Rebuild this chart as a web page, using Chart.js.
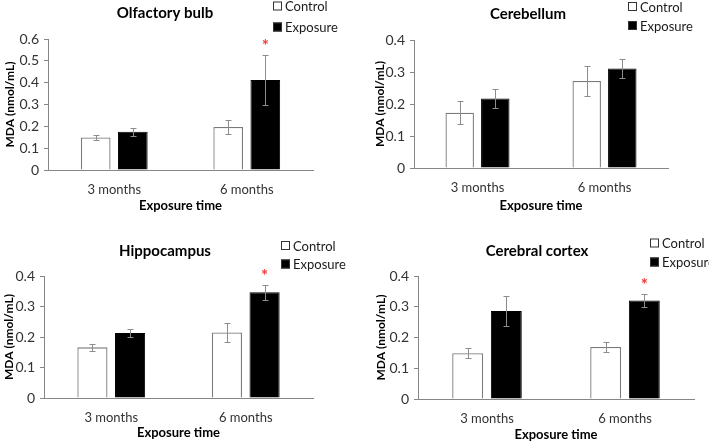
<!DOCTYPE html>
<html>
<head>
<meta charset="utf-8">
<script src="https://cdn.jsdelivr.net/npm/chart.js@4.4.1/dist/chart.umd.min.js"></script>
<style>
  html, body { margin: 0; padding: 0; background: #fff; }
  #wrap { position: relative; width: 709px; height: 443px; overflow: hidden; }
  canvas { position: absolute; }
</style>
</head>
<body>
<div id="wrap">
  <canvas id="olfactory"></canvas>
  <canvas id="cerebellum"></canvas>
  <canvas id="hippocampus"></canvas>
  <canvas id="cortex"></canvas>
</div>
<script>
const categories = ['3 months', '6 months'];
const seriesNames = ['Control', 'Exposure'];
const xAxisTitle = 'Exposure time';
const yAxisTitle = 'MDA (nmol/mL)';

const olfactoryTicks = [0, 0.1, 0.2, 0.3, 0.4, 0.5, 0.6];
const brainTicks = [0, 0.1, 0.2, 0.3, 0.4];

// Olfactory bulb
const olfControl = [0.149, 0.197];
const olfControlErr = [0.010, 0.031];
const olfExposure = [0.175, 0.412];
const olfExposureErr = [0.018, 0.115];
const olfStar = [false, true];

// Cerebellum
const cerControl = [0.173, 0.272];
const cerControlErr = [0.036, 0.047];
const cerExposure = [0.217, 0.311];
const cerExposureErr = [0.031, 0.029];
const cerStar = [false, false];

// Hippocampus
const hipControl = [0.166, 0.215];
const hipControlErr = [0.012, 0.032];
const hipExposure = [0.213, 0.347];
const hipExposureErr = [0.012, 0.025];
const hipStar = [false, true];

// Cerebral cortex
const ctxControl = [0.149, 0.169];
const ctxControlErr = [0.016, 0.016];
const ctxExposure = [0.286, 0.320];
const ctxExposureErr = [0.049, 0.022];
const ctxStar = [false, true];

const FONT = 'Lato, "Open Sans", sans-serif';
const AXIS_GREY = '#868686';

// error bars, stars, panel title and the small legend
const extrasPlugin = {
    id: 'extras',
    afterDatasetsDraw(chart) {
        const c = chart.ctx;
        const yScale = chart.scales.y;
        chart.data.datasets.forEach((ds, i) => {
            const meta = chart.getDatasetMeta(i);
            meta.data.forEach((bar, j) => {
                const x = Math.round(bar.x) + 0.5;
                const hi = Math.round(yScale.getPixelForValue(ds.data[j] + ds.errors[j])) + 0.5;
                const lo = Math.round(yScale.getPixelForValue(ds.data[j] - ds.errors[j])) + 0.5;
                c.save();
                c.strokeStyle = '#8c8c8c';
                c.lineWidth = 1;
                c.beginPath();
                c.moveTo(x, hi); c.lineTo(x, lo);
                c.moveTo(x - 3, hi); c.lineTo(x + 3, hi);
                c.moveTo(x - 3, lo); c.lineTo(x + 3, lo);
                c.stroke();
                if (ds.stars && ds.stars[j]) {
                    c.fillStyle = '#f03c3c';
                    c.font = 'bold 17px ' + FONT;
                    c.textAlign = 'center';
                    c.textBaseline = 'alphabetic';
                    c.fillText('*', bar.x, hi - 4);
                }
                c.restore();
            });
        });
    },
    afterDraw(chart, args, opts) {
        const c = chart.ctx;
        c.save();
        c.fillStyle = '#000';
        c.font = 'bold 15px ' + FONT;
        c.textAlign = 'center';
        c.textBaseline = 'middle';
        c.fillText(opts.title, opts.titleX, opts.titleY);

        c.font = '13px ' + FONT;
        c.textAlign = 'left';
        chart.data.datasets.forEach((ds, i) => {
            const ly = opts.legendY + i * opts.legendGap;
            c.fillStyle = ds.backgroundColor;
            c.fillRect(opts.legendX, ly - 4.5, 9, 9);
            c.strokeStyle = '#333';
            c.lineWidth = 1;
            c.strokeRect(opts.legendX + 0.5, ly - 4, 8, 8);
            c.fillStyle = '#1a1a1a';
            c.fillText(ds.label, opts.legendX + 12, ly + 1);
        });
        c.restore();
    }
};

function makePanel(id, p) {
    const el = document.getElementById(id);
    el.width = p.box.w;
    el.height = p.box.h;
    el.style.left = p.box.x + 'px';
    el.style.top = p.box.y + 'px';

    const yWidth = p.area.l - p.box.x;
    const xHeight = p.box.y + p.box.h - p.area.b;

    return new Chart(el.getContext('2d'), {
        type: 'bar',
        data: {
            labels: categories,
            datasets: [{
                label: seriesNames[0],
                data: p.control,
                errors: p.controlErr,
                backgroundColor: '#ffffff',
                borderColor: '#7a7a7a',
                borderWidth: 1.3
            }, {
                label: seriesNames[1],
                data: p.exposure,
                errors: p.exposureErr,
                stars: p.stars,
                backgroundColor: '#000000',
                borderColor: '#000000',
                borderWidth: 1
            }]
        },
        options: {
            responsive: false,
            animation: false,
            layout: {
                padding: {
                    left: 0,
                    top: p.area.t - p.box.y,
                    right: p.box.x + p.box.w - p.area.r,
                    bottom: 0
                }
            },
            datasets: {
                bar: { categoryPercentage: 0.56, barPercentage: 0.8 }
            },
            scales: {
                x: {
                    grid: { display: false },
                    border: { display: true, color: AXIS_GREY, width: 1 },
                    ticks: { color: '#333', font: { family: FONT, size: 13 }, padding: 4 },
                    title: {
                        display: true, text: xAxisTitle, color: '#000',
                        font: { family: FONT, size: 13, weight: 'bold' },
                        padding: { top: 0, bottom: p.box.y + p.box.h - p.xTitleY - 7.8 }
                    },
                    afterFit: s => { s.height = xHeight; }
                },
                y: {
                    min: p.ticks[0],
                    max: p.ticks[p.ticks.length - 1],
                    afterBuildTicks: s => { s.ticks = p.ticks.map(v => ({ value: v })); },
                    grid: { drawOnChartArea: false, drawTicks: true, tickLength: 4, color: AXIS_GREY },
                    border: { display: true, color: AXIS_GREY, width: 1 },
                    ticks: { color: '#333', font: { family: FONT, size: 14 }, padding: 5 },
                    title: {
                        display: true, text: yAxisTitle, color: '#000',
                        font: { family: FONT, size: 12, weight: 'bold' },
                        padding: { top: p.yTitleX - p.box.x - 7.2, bottom: 0 }
                    },
                    afterFit: s => { s.width = yWidth; }
                }
            },
            plugins: {
                legend: { display: false },
                tooltip: { enabled: false },
                extras: {
                    title: p.title,
                    titleX: p.titlePos[0] - p.box.x,
                    titleY: p.titlePos[1] - p.box.y,
                    legendX: p.legendPos[0] - p.box.x,
                    legendY: p.legendPos[1] - p.box.y,
                    legendGap: p.legendGap
                }
            }
        },
        plugins: [extrasPlugin]
    });
}

makePanel('olfactory', {
    box: { x: 0, y: 0, w: 354, h: 216 },
    area: { l: 48, t: 39, r: 313, b: 170 },
    title: 'Olfactory bulb', titlePos: [165, 13],
    legendPos: [273, 6], legendGap: 21,
    xTitleY: 206, yTitleX: 10,
    ticks: olfactoryTicks,
    control: olfControl, controlErr: olfControlErr,
    exposure: olfExposure, exposureErr: olfExposureErr, stars: olfStar
});

makePanel('cerebellum', {
    box: { x: 354, y: 0, w: 355, h: 216 },
    area: { l: 414, t: 40, r: 668, b: 168 },
    title: 'Cerebellum', titlePos: [528, 14],
    legendPos: [628, 6.5], legendGap: 19,
    xTitleY: 205.5, yTitleX: 380,
    ticks: brainTicks,
    control: cerControl, controlErr: cerControlErr,
    exposure: cerExposure, exposureErr: cerExposureErr, stars: cerStar
});

makePanel('hippocampus', {
    box: { x: 0, y: 222, w: 354, h: 221 },
    area: { l: 44, t: 276, r: 313, b: 398 },
    title: 'Hippocampus', titlePos: [165, 251],
    legendPos: [281, 245.5], legendGap: 18.5,
    xTitleY: 433, yTitleX: 9.5,
    ticks: brainTicks,
    control: hipControl, controlErr: hipControlErr,
    exposure: hipExposure, exposureErr: hipExposureErr, stars: hipStar
});

makePanel('cortex', {
    box: { x: 354, y: 222, w: 355, h: 221 },
    area: { l: 418, t: 276, r: 694, b: 399 },
    title: 'Cerebral cortex', titlePos: [537, 251],
    legendPos: [650, 243], legendGap: 19,
    xTitleY: 435, yTitleX: 381,
    ticks: brainTicks,
    control: ctxControl, controlErr: ctxControlErr,
    exposure: ctxExposure, exposureErr: ctxExposureErr, stars: ctxStar
});
</script>
</body>
</html>
